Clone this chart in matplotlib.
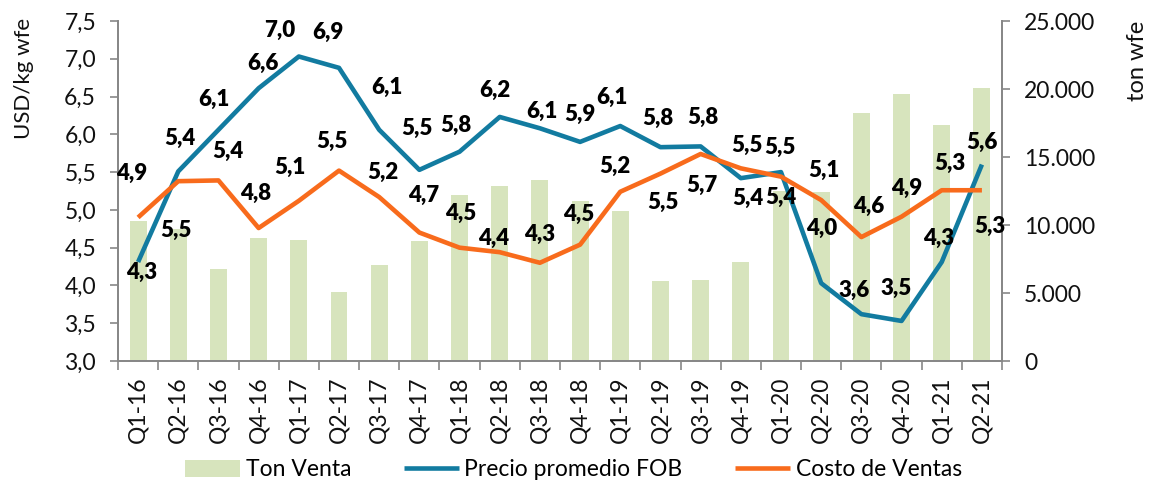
import matplotlib
matplotlib.use("Agg")
import matplotlib.pyplot as plt
import numpy as np
from matplotlib.ticker import FuncFormatter, FixedLocator

plt.rcParams['font.family'] = ['Lato', 'DejaVu Sans']

quarters = ["Q1-16", "Q2-16", "Q3-16", "Q4-16", "Q1-17", "Q2-17", "Q3-17", "Q4-17",
            "Q1-18", "Q2-18", "Q3-18", "Q4-18", "Q1-19", "Q2-19", "Q3-19", "Q4-19",
            "Q1-20", "Q2-20", "Q3-20", "Q4-20", "Q1-21", "Q2-21"]
ton_venta = [10300, 9700, 6800, 9050, 8900, 5070, 7060, 8800,
             12200, 12900, 13300, 11800, 11000, 5900, 5950, 7300,
             12500, 12400, 18200, 19600, 17350, 20100]
precio_fob = [4.31, 5.51, 6.06, 6.61, 7.03, 6.88, 6.06, 5.53,
              5.77, 6.23, 6.08, 5.90, 6.11, 5.83, 5.84, 5.42,
              5.50, 4.03, 3.62, 3.53, 4.31, 5.60]
costo_ventas = [4.90, 5.38, 5.39, 4.76, 5.12, 5.52, 5.17, 4.70,
                4.50, 4.44, 4.30, 4.54, 5.24, 5.48, 5.74, 5.55,
                5.44, 5.13, 4.64, 4.91, 5.26, 5.26]

# label offsets in pixels (dx, dy up)
fob_off = [(4, -10), (-2, -59), (-5, 30), (4, 25), (-19, 26), (-11, 35), (8, 42), (-2, 41),
           (-4, 26), (-5, 27), (2, 17), (0, 27), (-8, 29), (-3, 29), (2, 29), (7, -20),
           (-1, 25), (1, 55), (-7, 24), (-5, 33), (-3, 24), (0, 22)]
costo_off = [(-6, 44), (2, 43), (9, 29), (-3, 35), (-9, 33), (-7, 29), (4, 25), (4, 37),
             (1, 34), (-6, 14), (0, 28), (-1, 30), (-5, 25), (2, -29), (1, -31), (6, 23),
             (0, -21), (3, 30), (7, 31), (5, 28), (8, 27), (8, -36)]

BAR_C = '#D7E4BD'
BLUE = '#127BA0'
ORANGE = '#F86B1C'
AXC = '#878787'
TXT = '#111111'

W, H = 1151, 484
fig = plt.figure(figsize=(W / 100, H / 100), dpi=100)
L, R, T, B = 118, 1002, 21, 361
ax = fig.add_axes([L / W, (H - B) / H, (R - L) / W, (B - T) / H])
ax2 = ax.twinx()

x = np.arange(len(quarters))
ax2.bar(x, ton_venta, width=0.42, color=BAR_C, zorder=1, label='Ton Venta')
ax2.set_ylim(0, 25000)
ax2.set_yticks(np.arange(0, 25001, 5000))
ax2.yaxis.set_major_formatter(FuncFormatter(lambda v, p: f"{int(v):,}".replace(',', '.')))

l1, = ax.plot(x, precio_fob, color=BLUE, lw=3.3, solid_capstyle='butt', label='Precio promedio FOB', zorder=3)
l2, = ax.plot(x, costo_ventas, color=ORANGE, lw=3.3, solid_capstyle='butt', label='Costo de Ventas', zorder=3)
ax.set_zorder(ax2.get_zorder() + 1)
ax.patch.set_visible(False)

ax.set_ylim(3.0, 7.5)
ax.set_yticks(np.arange(3.0, 7.51, 0.5))
ax.yaxis.set_major_formatter(FuncFormatter(lambda v, p: f"{v:.1f}".replace('.', ',')))
ax.set_xlim(-0.5, len(quarters) - 0.5)
ax.set_xticks(x)
ax.set_xticklabels(quarters, rotation=90, fontsize=16.5, color=TXT)
ax.tick_params(axis='x', length=0, pad=11)
ax.xaxis.set_minor_locator(FixedLocator(np.arange(-0.5, len(quarters), 1.0)))
ax.tick_params(axis='x', which='minor', length=6.5, color=AXC, width=1.2)
ax.tick_params(axis='y', length=5.8, color=AXC, width=1.2, labelsize=16.5, labelcolor=TXT, pad=10)
ax2.tick_params(axis='y', length=5.8, color=AXC, width=1.2, labelsize=16.5, labelcolor=TXT, pad=10)

for a in (ax, ax2):
    a.spines['top'].set_visible(False)
    for s in ('left', 'right', 'bottom'):
        a.spines[s].set_color(AXC)
        a.spines[s].set_linewidth(1.3)

k = 0.72
for i, (v, o) in enumerate(zip(precio_fob, fob_off)):
    ax.annotate(f"{v:.1f}".replace('.', ','), (x[i], v), xytext=(o[0] * k, o[1] * k),
                textcoords='offset points', ha='center', va='center',
                fontsize=16, fontweight='heavy', color='black', zorder=5)
for i, (v, o) in enumerate(zip(costo_ventas, costo_off)):
    ax.annotate(f"{v:.1f}".replace('.', ','), (x[i], v), xytext=(o[0] * k, o[1] * k),
                textcoords='offset points', ha='center', va='center',
                fontsize=16, fontweight='heavy', color='black', zorder=5)

fig.text(24 / W, 1 - 78 / H, 'USD/kg wfe', rotation=90, ha='center', va='center', fontsize=16, color=TXT)
fig.text(1137 / W, 1 - 61 / H, 'ton wfe', rotation=90, ha='center', va='center', fontsize=17, color=TXT)

handles = [ax2.patches[0], l1, l2]
fig.legend(handles, ['Ton Venta', 'Precio promedio FOB', 'Costo de Ventas'],
           loc='center', bbox_to_anchor=(0.5 - 2 / W, 1 - 470 / H), ncol=3, frameon=False,
           fontsize=16.5, handlelength=2.4, handleheight=0.7, columnspacing=2.3,
           handletextpad=0.25, borderpad=0, borderaxespad=0)

fig.savefig('out.png', dpi=100)
